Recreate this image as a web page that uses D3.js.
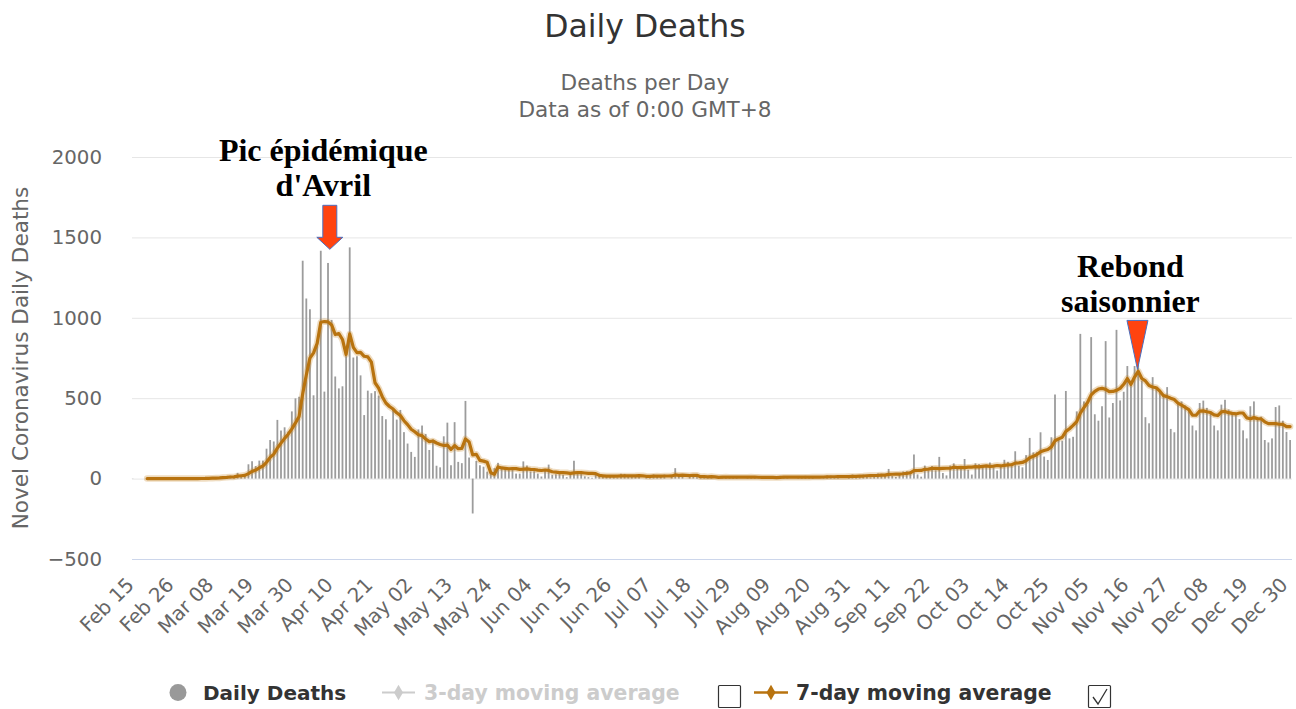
<!DOCTYPE html>
<html><head><meta charset="utf-8">
<script src="https://cdn.jsdelivr.net/npm/d3@7/dist/d3.min.js"></script>
<style>
body{margin:0;background:#fff;}
svg{display:block;font-family:"DejaVu Sans",sans-serif;}
</style>
</head><body>
<svg id="chart" width="1296" height="709"></svg>
<script>
// ---------------- DATA ----------------
const startDate = "2020-02-15";           // first category (daily categories)
const dailyDeaths = [
1,0,0,0,0,0,0,0,0,0,
0,1,0,0,0,0,1,1,0,2,
3,7,3,6,8,15,13,18,12,36,
21,27,89,108,78,112,112,186,240,231,
365,299,319,292,418,499,509,1355,1120,1053,
518,833,1417,541,1341,987,635,561,574,762,
1438,753,761,642,395,547,531,544,516,389,
369,242,437,367,427,289,218,166,135,306,
330,278,178,243,80,70,263,348,83,351,
104,96,483,131,-217,110,83,74,43,35,
65,98,66,66,52,57,31,31,107,81,
44,46,31,13,54,87,23,27,28,24,
9,29,111,28,28,14,9,5,23,30,
13,15,14,9,5,30,29,14,15,17,
16,0,10,22,26,17,13,25,0,12,
65,10,25,0,14,19,9,6,14,13,
14,0,0,16,10,11,12,14,0,0,
13,15,10,6,8,0,0,12,8,17,
16,9,0,0,11,11,17,12,16,0,
0,15,19,18,12,19,0,0,20,25,
20,22,25,12,7,25,32,30,19,60,
17,10,30,44,46,46,150,26,12,81,
50,78,52,135,35,20,81,95,63,62,
122,55,25,95,90,85,80,100,70,50,
75,117,104,88,170,80,70,146,253,163,
165,288,137,116,257,523,244,235,545,250,
260,418,900,480,460,880,400,360,450,855,
380,470,925,486,540,700,600,700,720,610,
382,344,631,569,548,527,569,309,288,475,
480,455,430,330,300,470,485,440,420,330,
300,460,490,430,410,395,370,300,250,450,
480,365,385,240,225,250,445,455,360,290,
240
];
const avg7Start = 4;                      // 7-day average begins at this category index
const avg7 = [
0,0,0.1,0,0,0,0,0.1,0.1,0.1,
0.1,0.1,0.3,0.4,0.3,0.6,1,2,2.4,3.1,
4.1,6.3,7.9,10,10.7,15.4,17.6,20.3,30.9,44.4,
53,67.3,78.1,101.7,132.1,152.4,189.1,220.7,250.3,276,
309.1,346.1,385.9,527.3,644.6,749.4,781.7,841,972.1,976.7,
974.7,955.7,896,902.1,865.1,771.6,899.7,815.7,783.4,784.4,
760.7,756.9,723.9,596.1,562.3,509.1,470.1,448.3,432.6,409.1,
392.4,360,335.6,306.6,291.3,272.6,267.3,246,230.1,233.7,
221.4,212.1,206,208.6,180.7,205.4,185.6,187.9,246.9,228,
147.3,151.1,112.9,108.6,101,37,27.6,72.6,66.3,63.9,
60.7,62.7,62.1,57.3,58.6,60.7,57.6,56.7,53,50.4,
53.7,50.9,42.6,40.1,37.6,36.6,36,32.4,35.9,36.6,
36.7,34.7,32.6,32,31.1,19.6,17.4,15.6,15.6,15.6,
15.6,16.6,16.4,16.6,16.6,17,18,17.3,14.4,13.4,
15.1,15.4,14.9,16.1,16.1,16.4,22.6,20.3,21.4,19.6,
18,20.7,20.3,11.9,12.4,10.7,12.7,10.7,8,9,
9.6,9.1,9,9,9,9,8.6,9.3,9.1,8.3,
7.4,7.4,7.4,7.3,6.3,7.3,8.7,8.9,8.9,8.9,
8.7,9.1,9.1,8.6,9.6,9.6,9.6,10.1,11.3,11.4,
11.4,11.9,11.9,11.9,12.6,13.4,13.7,15.1,16,17.7,
18.7,19.4,20.4,21.9,21.4,26.4,27.1,27.6,28.3,30,
32.3,36.1,49,50.3,50.6,57.9,58.7,63.3,64.1,62,
63.3,64.4,64.4,70.9,68.7,70.1,68.3,71.1,71.9,73.9,
73.1,76.3,78.9,75.7,77.9,81.4,78.6,82.4,85.1,86.3,
96.3,97.7,100.6,110.7,130.1,138.6,149.6,166.4,174.6,181.1,
197,235.6,247.1,257.1,293.9,310,330.6,353.6,407.4,441.1,
473.3,521.1,542.6,556.9,561.4,555,540.7,542.1,548.6,560.9,
586.6,622.3,585.9,631.6,667.3,622.3,607.4,579.4,569.6,565.1,
543.4,515.9,510,499.6,491.6,469.3,456.6,443.3,429.4,395.3,
394,420,421.4,415.7,410.7,396.4,392.1,415,417.9,410,
405.7,402.1,407.9,407.9,377.9,372.1,379.3,372.9,371.4,352.9,
342.1,342.1,341.4,337.9,337.1,323.6,323.6
];
const xTickEvery = 11;
const xTickLabels = ["Feb 15","Feb 26","Mar 08","Mar 19","Mar 30","Apr 10","Apr 21","May 02","May 13","May 24",
  "Jun 04","Jun 15","Jun 26","Jul 07","Jul 18","Jul 29","Aug 09","Aug 20","Aug 31","Sep 11",
  "Sep 22","Oct 03","Oct 14","Oct 25","Nov 05","Nov 16","Nov 27","Dec 08","Dec 19","Dec 30"];
const yTicks = [-500, 0, 500, 1000, 1500, 2000];
const yTickLabels = ["\u2212500", "0", "500", "1000", "1500", "2000"];
const titleText = "Daily Deaths";
const subtitleLines = ["Deaths per Day", "Data as of 0:00 GMT+8"];
const yAxisTitle = "Novel Coronavirus Daily Deaths";
const legendNames = ["Daily Deaths", "3-day moving average", "7-day moving average"];
// annotations: category index of arrow tip, value at tip, text lines
const annotIndex = [54.5, 277.8];
const annotValue = [1426, 679];
const annotText = [["Pic épidémique", "d'Avril"], ["Rebond", "saisonnier"]];

// ---------------- LAYOUT ----------------
const W = 1296, H = 709;
const plotLeft = 132, plotRight = 1292, plotTop = 157, plotBottom = 559;
const svg = d3.select("#chart");

const parse = d3.timeParse("%Y-%m-%d");
const fmt = d3.timeFormat("%Y-%m-%d");
const categories = dailyDeaths.map((_, i) => fmt(d3.timeDay.offset(parse(startDate), i)));

const x = d3.scalePoint().domain(categories).range([plotLeft + 0.7, plotRight - 1.9]);
const xi = d3.scaleLinear().domain([0, categories.length - 1]).range(x.range());
const y = d3.scaleLinear().domain([yTicks[0], yTicks[yTicks.length - 1]]).range([plotBottom, plotTop]);

// grid lines
const grid = svg.append("g").attr("transform", `translate(${plotLeft},0)`)
  .call(d3.axisLeft(y).tickValues(yTicks).tickSize(-(plotRight - plotLeft)).tickFormat(""));
grid.select(".domain").remove();
grid.selectAll(".tick line").attr("stroke", d => d === yTicks[0] ? "#ccd6eb" : "#e6e6e6").attr("stroke-width", 1);

// y axis labels
const yAx = svg.append("g").attr("transform", `translate(102,0)`)
  .call(d3.axisLeft(y).tickValues(yTicks).tickSize(0).tickPadding(0)
    .tickFormat(d => yTickLabels[yTicks.indexOf(d)]));
yAx.select(".domain").remove();
yAx.selectAll("text").attr("fill", "#666").style("font-size", "19.8px").style("font-family", "DejaVu Sans");

// x axis labels
const tickCats = xTickLabels.map((_, k) => categories[k * xTickEvery]);
const xAx = svg.append("g").attr("transform", `translate(0,${plotBottom})`)
  .call(d3.axisBottom(x).tickValues(tickCats).tickSize(0).tickPadding(0)
    .tickFormat((d, i) => xTickLabels[i]));
xAx.select(".domain").remove();
xAx.selectAll("text")
  .attr("y", 0).attr("dy", null).attr("x", 0)
  .attr("text-anchor", "end")
  .attr("transform", "translate(2,27) rotate(-45)")
  .attr("fill", "#666").style("font-size", "19.8px").style("font-family", "DejaVu Sans");

// bars
svg.append("g").selectAll("rect").data(dailyDeaths).join("rect")
  .attr("x", (d, i) => x(categories[i]) - 0.9)
  .attr("width", 1.8)
  .attr("y", d => y(Math.max(0, d)))
  .attr("height", d => Math.abs(y(d) - y(0)))
  .attr("fill", "#9c9c9c");

// 7-day line
const line = d3.line().x((d, i) => x(categories[avg7Start + i])).y(d => y(d));
svg.append("path").datum(avg7).attr("d", line).attr("fill", "none")
  .attr("stroke", "rgba(196,128,30,0.28)").attr("stroke-width", 6.5)
  .attr("stroke-linejoin", "round").attr("stroke-linecap", "round");
svg.append("path").datum(avg7).attr("d", line).attr("fill", "none")
  .attr("stroke", "#b8730f").attr("stroke-width", 3.2)
  .attr("stroke-linejoin", "round").attr("stroke-linecap", "round");

// titles
svg.append("text").attr("x", 645).attr("y", 37).attr("text-anchor", "middle")
  .attr("fill", "#333").style("font-size", "31.5px").text(titleText);
svg.append("g").selectAll("text").data(subtitleLines).join("text")
  .attr("x", 645).attr("y", (d, i) => 90 + i * 27).attr("text-anchor", "middle")
  .attr("fill", "#666").style("font-size", "21.6px").text(d => d);
svg.append("text").attr("transform", `translate(28,${(plotTop + plotBottom) / 2}) rotate(-90)`)
  .attr("text-anchor", "middle").attr("fill", "#666").style("font-size", "21.6px").text(yAxisTitle);

// annotations
const arrowFill = "#ff4310", arrowStroke = "#4a6fc0";
{
  const tx = xi(annotIndex[0]), ty = y(annotValue[0]);
  const p = d3.path();
  p.moveTo(tx, ty); p.lineTo(tx - 13, ty - 12); p.lineTo(tx - 7, ty - 12); p.lineTo(tx - 7, ty - 44);
  p.lineTo(tx + 7, ty - 44); p.lineTo(tx + 7, ty - 12); p.lineTo(tx + 13, ty - 12); p.closePath();
  svg.append("path").attr("d", p.toString()).attr("fill", arrowFill).attr("stroke", arrowStroke).attr("stroke-width", 1);
  svg.append("g").selectAll("text").data(annotText[0]).join("text")
    .attr("x", tx - 6.5).attr("y", (d, i) => ty - 88 + i * 34.5).attr("text-anchor", "middle")
    .style("font-family", "Liberation Serif").style("font-weight", "bold").style("font-size", "32px")
    .attr("fill", "#000").text(d => d);
}
{
  const tx = xi(annotIndex[1]), ty = y(annotValue[1]);
  const p = d3.path();
  p.moveTo(tx, ty); p.lineTo(tx - 10.5, ty - 49); p.lineTo(tx + 10.5, ty - 49); p.closePath();
  svg.append("path").attr("d", p.toString()).attr("fill", arrowFill).attr("stroke", arrowStroke).attr("stroke-width", 1);
  svg.append("g").selectAll("text").data(annotText[1]).join("text")
    .attr("x", tx - 7).attr("y", (d, i) => ty - 92 + i * 35).attr("text-anchor", "middle")
    .style("font-family", "Liberation Serif").style("font-weight", "bold").style("font-size", "32px")
    .attr("fill", "#000").text(d => d);
}

// legend
const lg = svg.append("g");
const ly = 692.5, lbase = 700;
lg.append("circle").attr("cx", 178).attr("cy", ly).attr("r", 8.5).attr("fill", "#999");
lg.append("text").attr("x", 203).attr("y", lbase).attr("fill", "#333")
  .style("font-weight", "bold").style("font-size", "20px").text(legendNames[0]);
// 3-day (hidden)
lg.append("line").attr("x1", 382).attr("x2", 415).attr("y1", ly).attr("y2", ly).attr("stroke", "#ccc").attr("stroke-width", 2);
lg.append("path").attr("d", d3.symbol(d3.symbolDiamond, 70)()).attr("transform", `translate(398.5,${ly})`).attr("fill", "#ccc");
lg.append("text").attr("x", 424).attr("y", lbase).attr("fill", "#ccc")
  .style("font-weight", "bold").style("font-size", "20.4px").text(legendNames[1]);
lg.append("rect").attr("x", 718.5).attr("y", 685.5).attr("width", 22).attr("height", 22).attr("rx", 1)
  .attr("fill", "#fff").attr("stroke", "#333").attr("stroke-width", 1.2);
// 7-day
lg.append("line").attr("x1", 754).attr("x2", 788).attr("y1", ly).attr("y2", ly).attr("stroke", "#b8730f").attr("stroke-width", 2.5);
lg.append("path").attr("d", d3.symbol(d3.symbolDiamond, 70)()).attr("transform", `translate(771,${ly})`).attr("fill", "#b8730f");
lg.append("text").attr("x", 796).attr("y", lbase).attr("fill", "#333")
  .style("font-weight", "bold").style("font-size", "20.4px").text(legendNames[2]);
lg.append("rect").attr("x", 1088.5).attr("y", 685.5).attr("width", 22).attr("height", 22).attr("rx", 1)
  .attr("fill", "#fff").attr("stroke", "#333").attr("stroke-width", 1.2);
lg.append("path").attr("d", "M1093,697 L1098,704 L1107,689").attr("fill", "none").attr("stroke", "#333").attr("stroke-width", 1.3);
</script>
</body></html>
